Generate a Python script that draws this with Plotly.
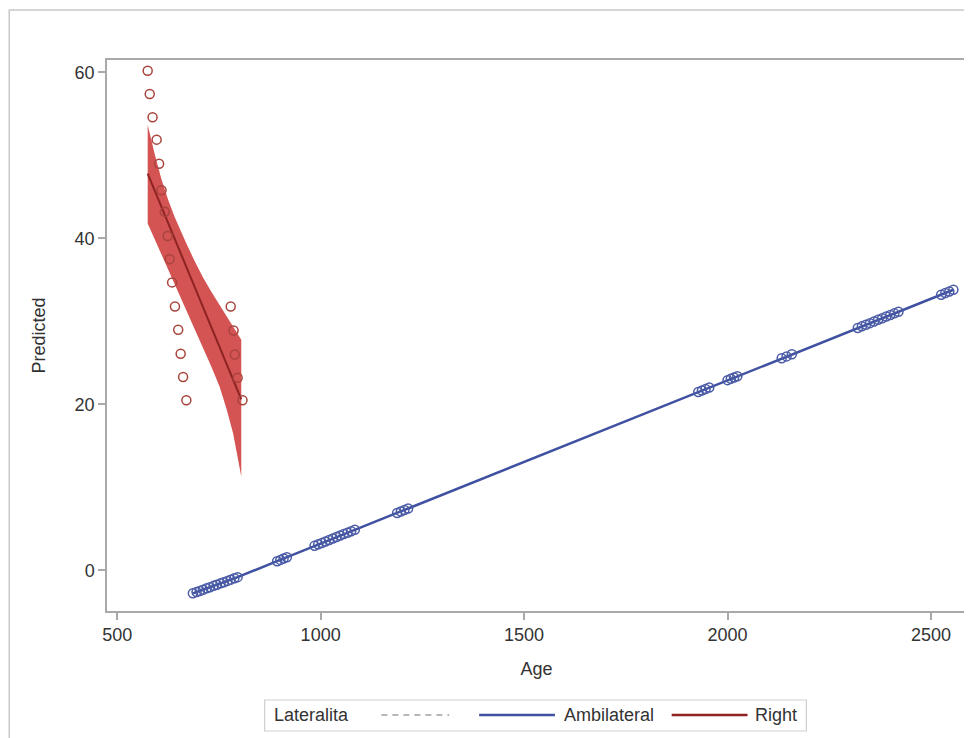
import plotly.graph_objects as go

# ---------------- data ----------------
amb_age = [686, 695, 703, 711, 720, 728, 737, 745, 754, 762, 771, 779, 788, 796,
           893, 901, 909, 917,
           985, 994, 1003, 1012, 1021, 1030, 1039, 1048, 1057, 1066, 1075, 1084,
           1188, 1197, 1206, 1215,
           1928, 1937, 1946, 1955,
           2000, 2008, 2016, 2024,
           2133, 2145, 2158,
           2320, 2330, 2340, 2350, 2360, 2370, 2380, 2390, 2400, 2410, 2420,
           2525, 2535, 2545, 2555]
amb_pred = [-2.77, -2.62, -2.48, -2.33, -2.17, -2.03, -1.87, -1.73, -1.57, -1.43, -1.27, -1.12, -0.96, -0.82,
            1.10, 1.26, 1.42, 1.58,
            2.95, 3.13, 3.30, 3.48, 3.66, 3.84, 4.01, 4.19, 4.37, 4.54, 4.72, 4.90,
            6.92, 7.10, 7.28, 7.45,
            21.50, 21.68, 21.86, 22.03,
            22.92, 23.08, 23.24, 23.39,
            25.55, 25.78, 26.04,
            29.21, 29.40, 29.60, 29.79, 29.99, 30.19, 30.38, 30.58, 30.77, 30.97, 31.16,
            33.22, 33.41, 33.61, 33.81]

right_age = [575, 580, 587, 597, 603, 609, 617, 624, 629, 635, 642, 650, 656, 662, 670,
             779, 786, 789, 796, 808]
right_pred = [60.2, 57.4, 54.6, 51.9, 49.0, 45.8, 43.2, 40.3, 37.5, 34.7, 31.8, 29.0, 26.1, 23.3, 20.5,
              31.8, 28.9, 26.0, 23.2, 20.5]

right_fit_age = [575, 805]
right_fit_pred = [47.8, 20.6]

band_age = [575, 592, 609, 625, 641, 656, 670, 690, 711, 731, 752, 769, 785, 805]
band_upper = [53.7, 50.2, 47.1, 44.7, 42.6, 40.9, 39.4, 37.3, 35.3, 33.6, 32.0, 30.7, 29.4, 27.8]
band_lower = [41.8, 40.0, 38.1, 36.4, 34.6, 33.0, 31.4, 29.2, 26.8, 24.6, 22.1, 19.4, 16.5, 11.3]

x_ticks = [500, 1000, 1500, 2000, 2500]
y_ticks = [0, 20, 40, 60]

legend_title = "Lateralita"
groups = ["Ambilateral", "Right"]

# ---------------- styles ----------------
BLUE = "#3F51A0"
BLUE_MK = "#4A5BA6"
RED_MK = "#A8443C"
RED_LINE = "#8E2323"
RED_FILL = "rgba(204,50,50,0.84)"
AXIS = "#A9A9A9"
TXT = "#333333"
FONT = "Liberation Sans, Arial, sans-serif"

W, H = 972, 738
OFF = 8  # page body margin
L, R, T, B = 107 - OFF, 968 - OFF, 60 - OFF, 611 - OFF


def px(x):
    return (x - OFF - L) / (R - L)


def py(y):
    return (B - (y - OFF)) / (B - T)


fig = go.Figure()

fig.add_trace(go.Scatter(
    x=band_age + band_age[::-1], y=band_upper + band_lower[::-1],
    fill="toself", fillcolor=RED_FILL, line=dict(width=0), mode="lines",
    hoverinfo="skip", showlegend=False))

fig.add_trace(go.Scatter(
    x=right_fit_age, y=right_fit_pred, mode="lines",
    line=dict(color=RED_LINE, width=2), showlegend=False))

fig.add_trace(go.Scatter(
    x=right_age, y=right_pred, mode="markers",
    marker=dict(symbol="circle-open", size=9, color=RED_MK, line=dict(width=1.5)),
    showlegend=False))

fig.add_trace(go.Scatter(
    x=amb_age, y=amb_pred, mode="lines",
    line=dict(color=BLUE, width=2.5), showlegend=False))

fig.add_trace(go.Scatter(
    x=amb_age, y=amb_pred, mode="markers",
    marker=dict(symbol="circle-open", size=9, color=BLUE_MK, line=dict(width=1.5)),
    showlegend=False))

# ---------------- manual legend & frame ----------------
shapes = []
annotations = []

# outer frame
shapes.append(dict(type="rect", xref="paper", yref="paper",
                   x0=px(9), x1=px(1000), y0=py(770), y1=py(10),
                   line=dict(color="#C8C8C8", width=1.5), layer="below"))
# legend box
shapes.append(dict(type="rect", xref="paper", yref="paper",
                   x0=px(265), x1=px(808), y0=py(731), y1=py(700),
                   line=dict(color="#CFCFCF", width=1.2)))
ly = py(715)
shapes.append(dict(type="line", xref="paper", yref="paper",
                   x0=px(382), x1=px(450), y0=ly, y1=ly,
                   line=dict(color="#A0A0A0", width=1.5, dash="6px,5px")))
shapes.append(dict(type="line", xref="paper", yref="paper",
                   x0=px(480), x1=px(556), y0=ly, y1=ly,
                   line=dict(color=BLUE, width=2.5)))
shapes.append(dict(type="line", xref="paper", yref="paper",
                   x0=px(673), x1=px(749), y0=ly, y1=ly,
                   line=dict(color=RED_LINE, width=2.5)))
annotations.append(dict(xref="paper", yref="paper", x=px(272), y=ly, text=legend_title,
                        showarrow=False, xanchor="left", yanchor="middle",
                        font=dict(family=FONT, size=18, color=TXT)))
annotations.append(dict(xref="paper", yref="paper", x=px(563), y=ly, text=groups[0],
                        showarrow=False, xanchor="left", yanchor="middle",
                        font=dict(family=FONT, size=18, color=TXT)))
annotations.append(dict(xref="paper", yref="paper", x=px(755), y=ly, text=groups[1],
                        showarrow=False, xanchor="left", yanchor="middle",
                        font=dict(family=FONT, size=18, color=TXT)))

fig.update_layout(
    width=W, height=H,
    margin=dict(l=L, r=W - R, t=T, b=H - B, pad=0),
    paper_bgcolor="white", plot_bgcolor="white",
    font=dict(family=FONT, size=18, color=TXT),
    showlegend=False,
    shapes=shapes, annotations=annotations,
    xaxis=dict(range=[475, 2586], tickvals=x_ticks, ticks="outside", ticklen=7,
               tickcolor=AXIS, tickwidth=1.5, showline=True, linecolor=AXIS, linewidth=1.5,
               mirror=True, showgrid=False, zeroline=False,
               title=dict(text="Age", standoff=18, font=dict(size=18)),
               tickfont=dict(size=18, color=TXT)),
    yaxis=dict(range=[-4.9, 61.5], tickvals=y_ticks, ticks="outside", ticklen=7,
               tickcolor=AXIS, tickwidth=1.5, showline=True, linecolor=AXIS, linewidth=1.5,
               mirror=True, showgrid=False, zeroline=False,
               title=dict(text="Predicted", standoff=24, font=dict(size=18)),
               tickfont=dict(size=18, color=TXT)),
)

fig.write_html("out.html")
